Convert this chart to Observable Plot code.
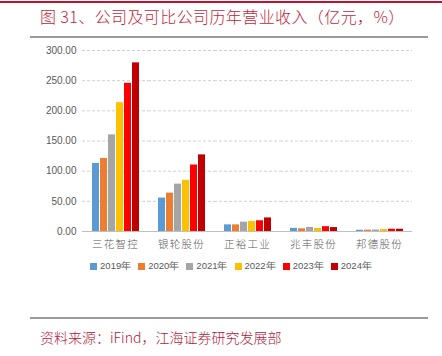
<!DOCTYPE html>
<html><head><meta charset="utf-8">
<script src="https://cdn.jsdelivr.net/npm/d3@7"></script>
<script src="https://cdn.jsdelivr.net/npm/@observablehq/plot@0.6"></script>
<style>
body{margin:0;width:442px;height:356px;background:#fff;position:relative;overflow:hidden;font-family:"Noto Sans CJK SC",sans-serif;}
#topline{position:absolute;left:0;top:1px;width:442px;height:2px;background:#C8102E;}
#title{position:absolute;left:40px;top:5px;font-size:16px;line-height:22px;color:#C41E3A;letter-spacing:0.4px;white-space:nowrap;font-weight:300;}
.gline{position:absolute;left:30px;width:398px;height:2px;background:#9a9a9a;}
#chart{position:absolute;left:0;top:40px;}
#legend{position:absolute;left:0;top:260px;width:462px;display:flex;justify-content:center;gap:7px;font-family:"Liberation Sans",sans-serif;font-size:9.5px;color:#595959;}
#legend span.i{display:flex;align-items:center;gap:3px;}
#legend span.sw{display:inline-block;width:7px;height:7px;}
#caption{position:absolute;left:40px;top:327px;font-size:14px;line-height:20px;color:#B0203A;white-space:nowrap;font-weight:300;}
</style></head><body>
<div id="topline"></div>
<div id="title">图 31、公司及可比公司历年营业收入（亿元，%）</div>
<div class="gline" style="top:36px"></div>
<div id="chart"></div>
<div id="legend"></div>
<div class="gline" style="top:317px"></div>
<div id="caption">资料来源：iFind，江海证券研究发展部</div>
<script>
const companies = ["三花智控","银轮股份","正裕工业","兆丰股份","邦德股份"];
const years = ["2019年","2020年","2021年","2022年","2023年","2024年"];
const colors = ["#5B9BD5","#ED7D31","#A5A5A5","#FFC000","#FF0000","#C00000"];
const v2019 = [112.9, 55.4, 11.0, 5.2, 2.0];
const v2020 = [121.1, 63.6, 11.0, 4.4, 2.2];
const v2021 = [160.2, 78.5, 15.5, 6.8, 2.5];
const v2022 = [213.5, 84.8, 16.5, 5.0, 3.4];
const v2023 = [245.6, 110.2, 17.8, 8.0, 3.8];
const v2024 = [279.5, 127.0, 22.5, 6.5, 3.8];
const yTicks = [0,50,100,150,200,250,300];

const series = [v2019,v2020,v2021,v2022,v2023,v2024];
const data = [];
companies.forEach((c,i)=>series.forEach((s,j)=>data.push({company:c, year:years[j], value:s[i]})));

const plot = Plot.plot({
  width: 442, height: 210,
  marginLeft: 82, marginRight: 30, marginTop: 10, marginBottom: 19,
  style:{fontFamily:"Liberation Sans, sans-serif", fontSize:"10px", color:"#595959", background:"transparent"},
  fx:{domain:companies, padding:0, label:null, tickSize:0},
  x:{domain:years, paddingInner:0.16, paddingOuter:0.9, axis:null},
  y:{domain:[0,300], ticks:yTicks, label:null, tickFormat:d=>d.toFixed(2), tickSize:0, tickPadding:6},
  color:{domain:years, range:colors},
  marks:[
    Plot.ruleY(yTicks.filter(d=>d>0), {stroke:"#d0d0d0", strokeDasharray:"3,2", strokeWidth:1}),
    Plot.barY(data, {fx:"company", x:"year", y:"value", fill:"year"}),
    Plot.ruleY([0], {stroke:"#bfbfbf", strokeWidth:1})
  ]
});
document.getElementById("chart").appendChild(plot);
d3.select(plot).selectAll("g[aria-label='fx-axis tick label'] text")
  .style("font-family","'Noto Sans CJK SC', sans-serif").style("font-size","10.5px").style("letter-spacing","1.2px").style("font-weight","300");

const lg = document.getElementById("legend");
years.forEach((y,i)=>{
  const s=document.createElement("span");s.className="i";
  s.innerHTML=`<span class="sw" style="background:${colors[i]}"></span><span>${y}</span>`;
  lg.appendChild(s);
});
</script>
</body></html>
